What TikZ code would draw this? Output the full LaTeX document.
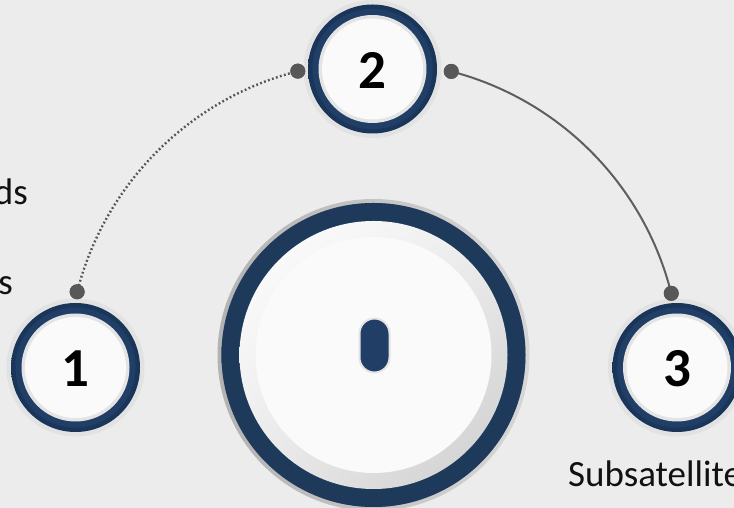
\documentclass[tikz,border=0pt]{standalone}
\usepackage{fontspec}
\setmainfont{Carlito}
\usetikzlibrary{calc,shadings}

\definecolor{bg}{HTML}{ECECEC}
\definecolor{navy}{HTML}{213F66}
\definecolor{navydark}{HTML}{1A355A}
\definecolor{ringblue}{HTML}{233F5C}
\definecolor{halo}{HTML}{E2E2E2}
\definecolor{rimgray}{HTML}{E4E4E4}
\definecolor{facewhite}{HTML}{FAFAFA}
\definecolor{dotc}{HTML}{585858}
\definecolor{linkc}{HTML}{5E5E5E}
\definecolor{txt}{HTML}{111111}

\begin{document}
\begin{tikzpicture}[x=1pt,y=1pt,
  dotnode/.style={circle,fill=dotc,inner sep=0pt,minimum size=15pt},
  numlabel/.style={font=\fontsize{55}{55}\selectfont\bfseries,text=black,inner sep=0pt},
  sidetext/.style={font=\fontsize{37}{40}\selectfont,text=txt,inner sep=0pt},
  link/.style={draw=linkc,line width=2pt},
  dottedlink/.style={draw=linkc!90!black,line width=2.4pt,dash pattern=on 1.8pt off 2.4pt},
  knobstyle/.style={draw=rimgray,line width=2pt,fill=navy,rounded corners=15pt,
    minimum width=30pt,minimum height=54pt,inner sep=0pt}
]
\useasboundingbox (0,0) rectangle (734,508);
\clip (0,0) rectangle (734,508);
\fill[bg] (0,0) rectangle (734,508);

% central hub dial
\coordinate (hub) at (373.5,153);
\shade[left color=black!30, right color=black!16] (hub) circle (156);
\fill[ringblue] (hub) circle (152);
\shade[inner color=navy, outer color=navydark, opacity=0.5] (hub) circle (152);
\shade[upper left=white, upper right=black!7, lower left=black!8, lower right=black!20] (hub) circle (134);
\fill[facewhite] (hub) circle (118);
\node[knobstyle] (knob) at (374.5,162.5) {};

% numbered badges
\foreach \nm/\px/\py/\lab in {one/75.5/140.5/1, two/372.5/439/2, three/677/140.5/3}{
  \fill[halo] (\px,\py) circle (69);
  \shade[inner color=navy, outer color=navydark] (\px,\py) circle (64.5);
  \fill[navy] (\px,\py) circle (60);
  \fill[rimgray] (\px,\py) circle (54);
  \fill[facewhite] (\px,\py) circle (50.5);
  \node[numlabel] (\nm) at (\px,\py-1.5) {\lab};
}

% connector dots on the guide arc
\coordinate (arcc) at (374,140);
\node[dotnode] (d2l) at ($(arcc)+(104.4:306.5pt)$) {};
\node[dotnode] (d1)  at ($(arcc)+(165.6:306.5pt)$) {};
\node[dotnode] (d2r) at ($(arcc)+(75.4:306.5pt)$) {};
\node[dotnode] (d3)  at ($(arcc)+(14.1:306.5pt)$) {};

% arcs between the badges
\draw[dottedlink] (d2l.center) arc[start angle=104.4, end angle=165.6, radius=306.5pt];
\draw[link] (d2r.center) arc[start angle=75.4, end angle=14.1, radius=306.5pt];

% redraw the dots above the arcs
\foreach \d in {d2l,d1,d2r,d3}{ \fill[dotc] (\d) circle (7.5); }

% side captions
\node[sidetext, anchor=base east] (capA) at (28,303) {ds};
\node[sidetext, anchor=base east] (capB) at (13,213) {s};
\node[sidetext, anchor=base west] (capC) at (568,21) {Subsatellite};
\end{tikzpicture}
\end{document}
